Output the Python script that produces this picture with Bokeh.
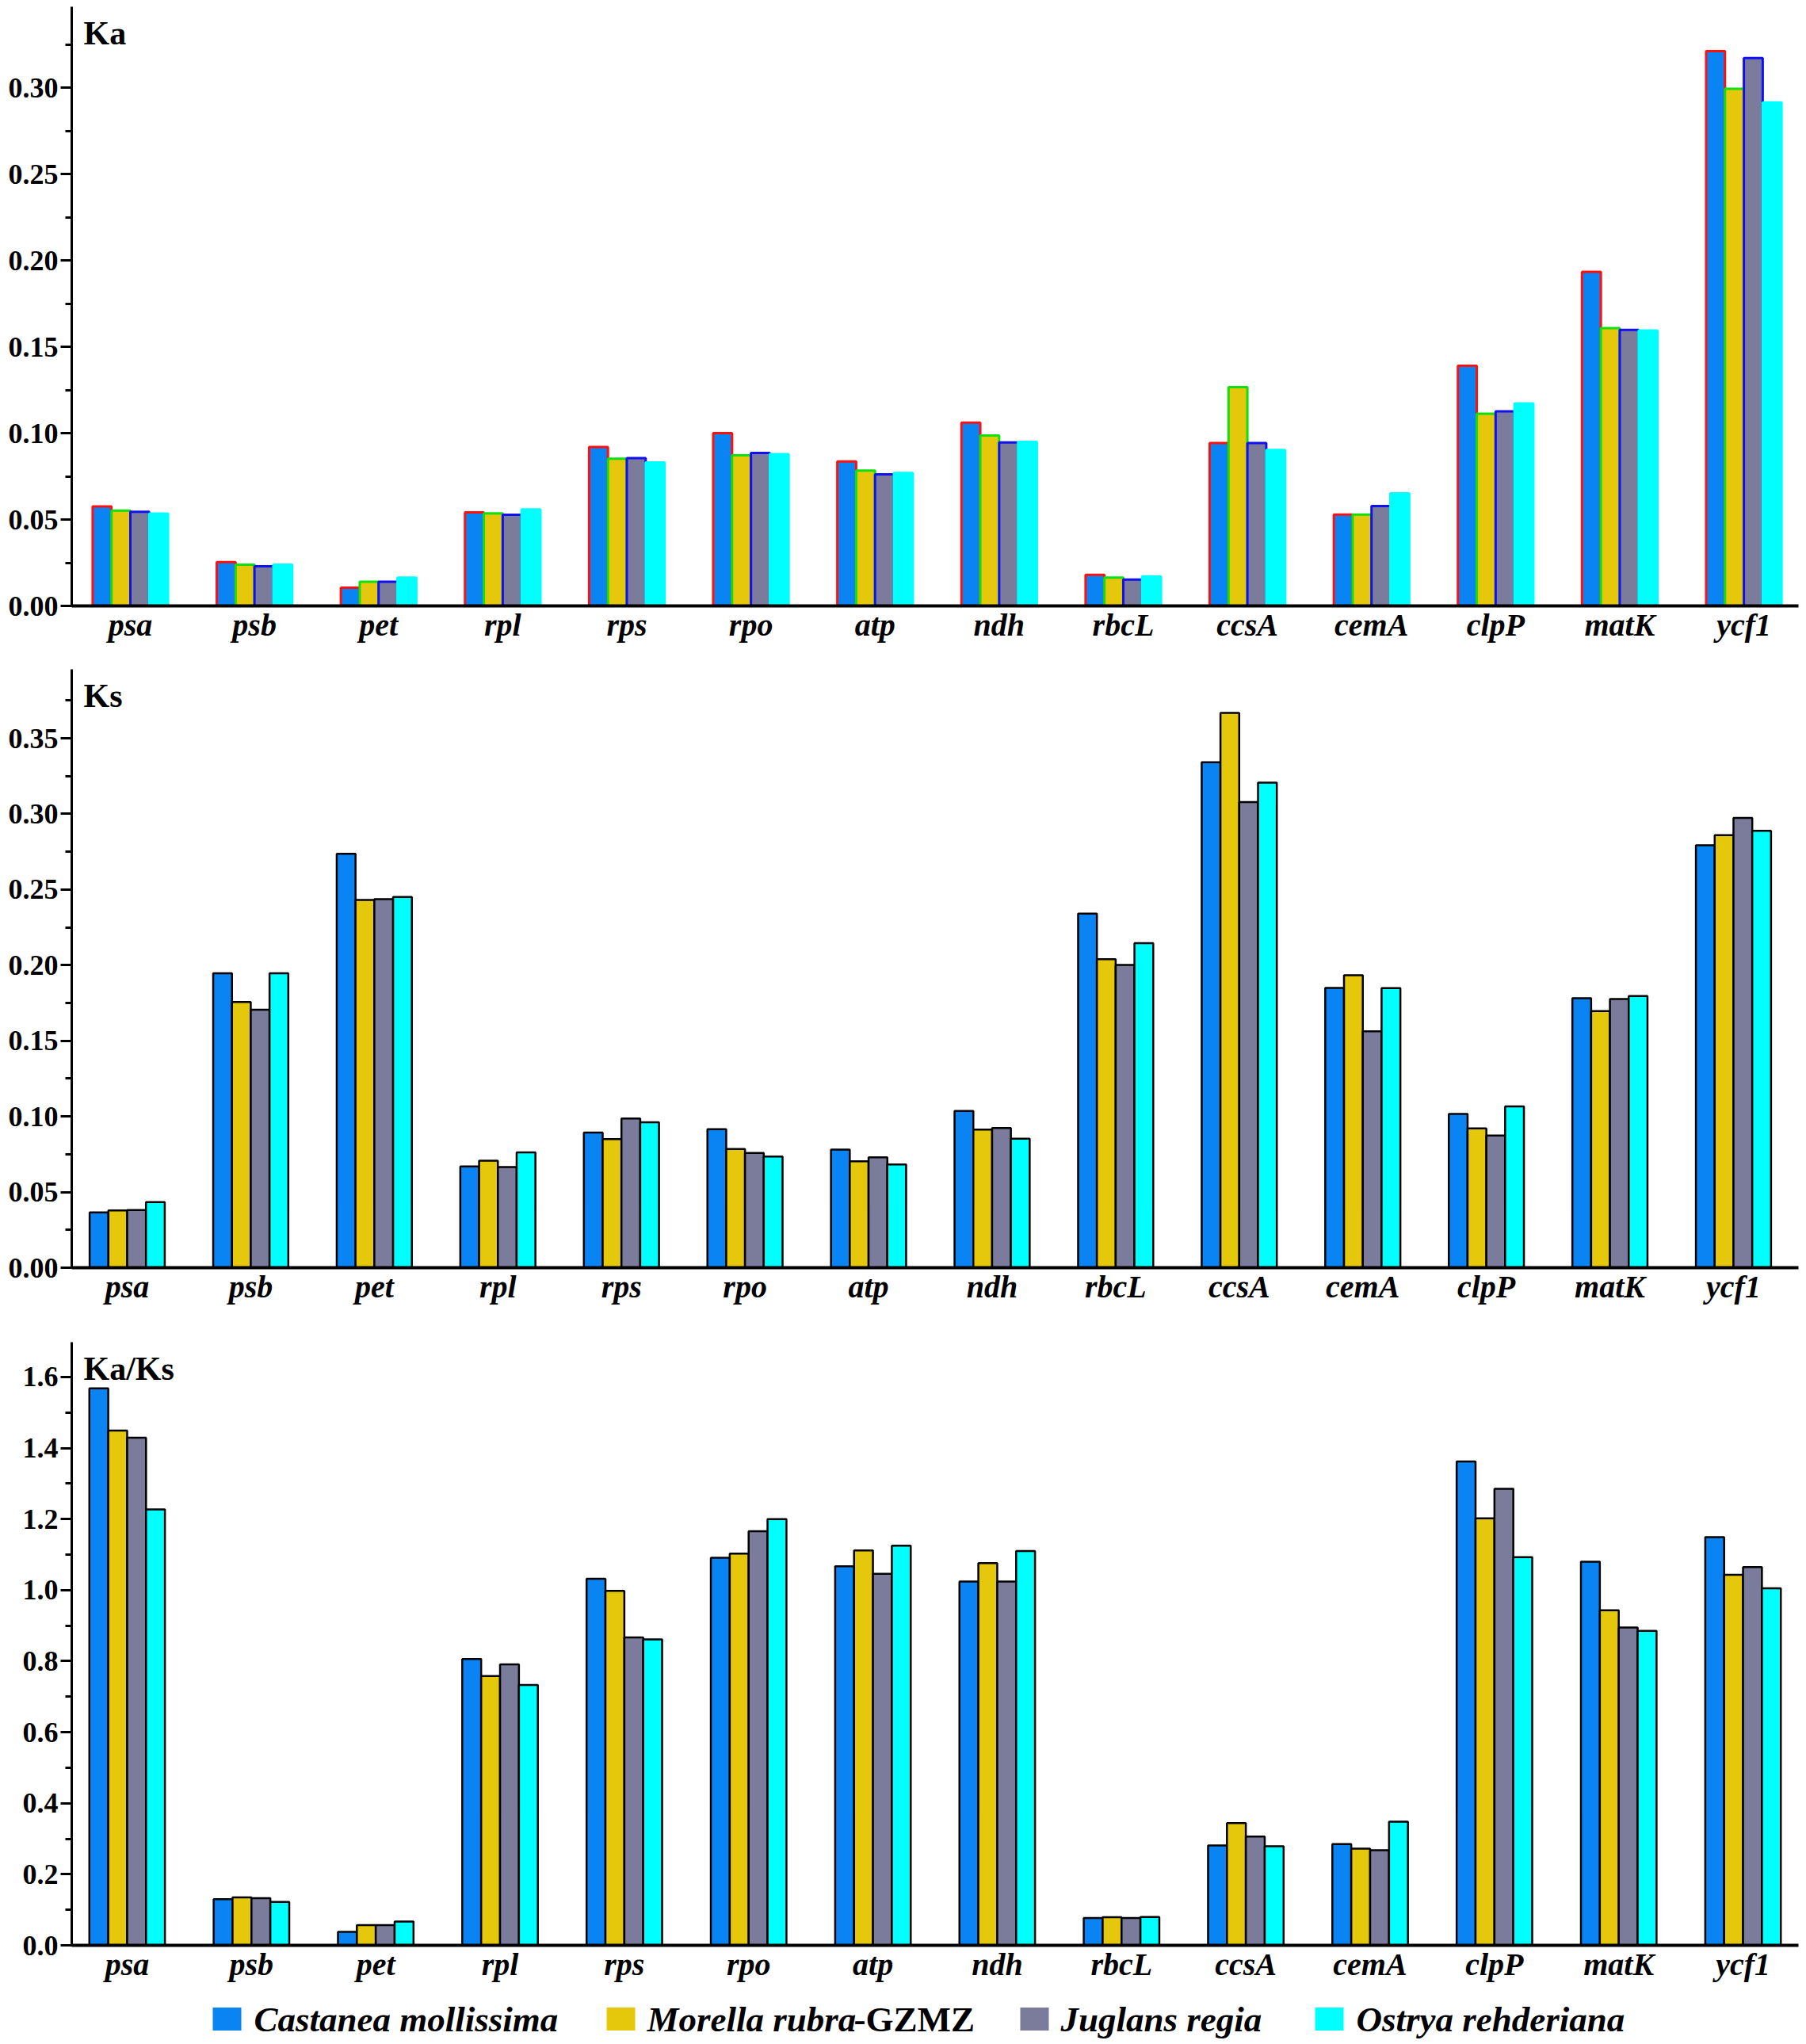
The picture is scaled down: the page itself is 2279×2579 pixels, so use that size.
from bokeh.plotting import figure
from bokeh.models import (Range1d, SingleIntervalTicker, FixedTicker, PrintfTickFormatter,
                          ColumnDataSource, Label)
from bokeh.core.properties import value
from bokeh.transform import dodge
from bokeh.layouts import column
from bokeh.embed import file_html
from bokeh.resources import INLINE

genes = ["psa", "psb", "pet", "rpl", "rps", "rpo", "atp", "ndh", "rbcL", "ccsA", "cemA", "clpP", "matK", "ycf1"]
species = ["Castanea mollissima", "Morella rubra", "Juglans regia", "Ostrya rehderiana"]
species_suffix = ["", "-GZMZ", "", ""]

ka_castanea = [0.0576, 0.0253, 0.0105, 0.0541, 0.0920, 0.1000, 0.0836, 0.1061, 0.0180, 0.0943, 0.0529, 0.1390, 0.1933, 0.3211]
ka_morella = [0.0552, 0.0239, 0.0140, 0.0536, 0.0852, 0.0872, 0.0783, 0.0986, 0.0164, 0.1266, 0.0529, 0.1112, 0.1608, 0.2993]
ka_juglans = [0.0545, 0.0229, 0.0140, 0.0527, 0.0855, 0.0885, 0.0761, 0.0946, 0.0153, 0.0943, 0.0578, 0.1126, 0.1598, 0.3171]
ka_ostrya = [0.0534, 0.0239, 0.0164, 0.0559, 0.0830, 0.0879, 0.0769, 0.0950, 0.0171, 0.0903, 0.0651, 0.1172, 0.1594, 0.2914]

ks_castanea = [0.0365, 0.1946, 0.2736, 0.0669, 0.0894, 0.0916, 0.0781, 0.1036, 0.2341, 0.3342, 0.1850, 0.1017, 0.1782, 0.2793]
ks_morella = [0.0378, 0.1757, 0.2431, 0.0707, 0.0850, 0.0784, 0.0704, 0.0913, 0.2039, 0.3668, 0.1933, 0.0921, 0.1697, 0.2859]
ks_juglans = [0.0381, 0.1705, 0.2437, 0.0666, 0.0987, 0.0759, 0.0729, 0.0924, 0.2001, 0.3078, 0.1563, 0.0874, 0.1776, 0.2974]
ks_ostrya = [0.0433, 0.1946, 0.2451, 0.0762, 0.0962, 0.0735, 0.0683, 0.0853, 0.2146, 0.3207, 0.1848, 0.1066, 0.1796, 0.2889]

kaks_castanea = [1.568, 0.130, 0.038, 0.806, 1.032, 1.091, 1.067, 1.024, 0.077, 0.281, 0.285, 1.362, 1.080, 1.149]
kaks_morella = [1.449, 0.135, 0.057, 0.758, 0.998, 1.103, 1.112, 1.076, 0.079, 0.344, 0.272, 1.202, 0.943, 1.043]
kaks_juglans = [1.429, 0.133, 0.057, 0.791, 0.867, 1.166, 1.046, 1.024, 0.077, 0.306, 0.268, 1.285, 0.895, 1.065]
kaks_ostrya = [1.227, 0.122, 0.067, 0.733, 0.861, 1.200, 1.125, 1.110, 0.080, 0.279, 0.348, 1.093, 0.885, 1.005]

# styling / layout constants
colors = ["#0B84F3", "#E5C70B", "#7B7B9B", "#00FFFF"]
ka_outlines = ["#FF1010", "#10E010", "#1010F0", "#00FFFF"]
FONT = "Liberation Serif"
W = 2279
BL = 90     # left border (frame left edge)
BR = 10     # right border
legend_swatch_left = [268, 765, 1287, 1659]
legend_text_left = [320, 816, 1338, 1711]
legend_suffix_left = [0, 1077, 0, 0]


def make_panel(title, series, ymax, interval, fmt, xstart, xend, height, b_top, b_bottom,
               outlines, lw):
    p = figure(width=W, height=height, output_backend="svg", toolbar_location=None,
               x_range=Range1d(xstart, xend), y_range=Range1d(0, ymax),
               min_border_top=b_top, min_border_bottom=b_bottom,
               min_border_left=BL, min_border_right=BR)
    p.xgrid.visible = False
    p.ygrid.visible = False
    p.outline_line_color = None
    p.background_fill_color = "white"
    p.border_fill_color = "white"

    data = {"x": list(range(len(genes))), "gene": genes}
    for j, s in enumerate(series):
        data["s%d" % j] = s
    src = ColumnDataSource(data)
    offsets = [-0.228, -0.076, 0.076, 0.228]
    for j in range(4):
        p.vbar(x=dodge("x", offsets[j]), top="s%d" % j, width=0.152, bottom=0, source=src,
               fill_color=colors[j], line_color=outlines[j], line_width=lw)

    xa = p.xaxis[0]
    xa.ticker = FixedTicker(ticks=list(range(len(genes))))
    xa.major_label_overrides = {i: g for i, g in enumerate(genes)}
    xa.major_tick_out = 0
    xa.major_tick_in = 0
    xa.minor_tick_out = 0
    xa.axis_line_width = 4
    xa.axis_line_color = "black"
    xa.major_label_standoff = 1
    xa.major_label_text_font = FONT
    xa.major_label_text_font_style = "bold italic"
    xa.major_label_text_font_size = "40px"
    xa.major_label_text_color = "black"

    ya = p.yaxis[0]
    ya.ticker = SingleIntervalTicker(interval=interval, num_minor_ticks=2)
    ya.formatter = PrintfTickFormatter(format=fmt)
    ya.axis_line_width = 3
    ya.axis_line_color = "black"
    ya.major_tick_out = 14
    ya.major_tick_in = 0
    ya.minor_tick_out = 8
    ya.minor_tick_in = 0
    ya.major_tick_line_width = 3
    ya.minor_tick_line_width = 3
    ya.major_label_standoff = 3
    ya.major_label_text_font = FONT
    ya.major_label_text_font_style = "bold"
    ya.major_label_text_font_size = "36px"
    ya.major_label_text_color = "black"

    frame_w = W - BL - BR
    frame_h = height - b_top - b_bottom
    ux = (xend - xstart) / frame_w
    uy = ymax / frame_h
    p.add_layout(Label(x=xstart + 15 * ux, y=ymax - 33 * uy, text=title, text_font=FONT,
                       text_font_style="bold", text_font_size="42px", text_color="black",
                       text_baseline="alphabetic", text_align="left"))
    return p


p1 = make_panel("Ka", [ka_castanea, ka_morella, ka_juglans, ka_ostrya], 0.3468, 0.05, "%.2f",
                -0.4725, 13.44, 828, 8, 64, ka_outlines, 3)
p2 = make_panel("Ks", [ks_castanea, ks_morella, ks_juglans, ks_ostrya], 0.3956, 0.05, "%.2f",
                -0.449, 13.526, 845, 16, 74, ["black"] * 4, 2.5)
p3 = make_panel("Ka/Ks", [kaks_castanea, kaks_morella, kaks_juglans, kaks_ostrya], 1.698, 0.2, "%.1f",
                -0.446, 13.446, 835, 20, 54, ["black"] * 4, 2.5)

# legend strip (own figure, frame aligned with the panels, page-pixel coordinates)
LH = 71
pl = figure(width=W, height=LH, output_backend="svg", toolbar_location=None,
            x_range=Range1d(BL, W - BR), y_range=Range1d(0, LH),
            x_axis_type=None, y_axis_type=None,
            min_border_top=0, min_border_bottom=0, min_border_left=BL, min_border_right=BR)
pl.xgrid.visible = False
pl.ygrid.visible = False
pl.outline_line_color = None
sw = 36
ymid = 32
pl.rect(x=[v + sw / 2 for v in legend_swatch_left], y=ymid, width=sw, height=29,
        fill_color=colors, line_color=None)
pl.text(x=legend_text_left, y=ymid, text=species, text_font=value(FONT),
        text_font_style="bold italic", text_font_size="45px", text_color="black",
        text_baseline="middle", text_align="left")
sfx_x = [legend_suffix_left[i] for i in range(4) if species_suffix[i]]
sfx_t = [s for s in species_suffix if s]
pl.text(x=sfx_x, y=ymid, text=sfx_t, text_font=value(FONT),
        text_font_style="bold", text_font_size="45px", text_color="black",
        text_baseline="middle", text_align="left")

layout = column(p1, p2, p3, pl, spacing=0)
open("out.html", "w").write(file_html(layout, INLINE))
